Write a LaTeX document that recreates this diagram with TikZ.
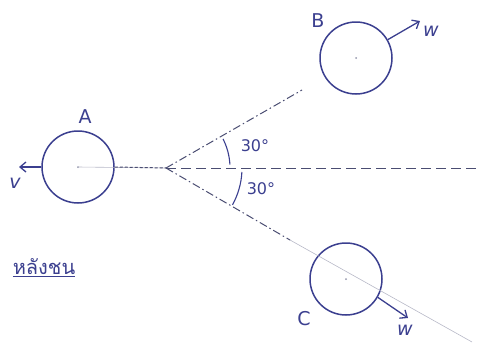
\documentclass[tikz,border=0pt]{standalone}
\usepackage{fontspec}
\newfontfamily\thaifont[Script=Thai]{Loma}
\newfontfamily\handfont{DejaVu Sans}
\usetikzlibrary{arrows.meta,calc}
\definecolor{ink}{HTML}{3B3F8F}
\definecolor{pencil}{HTML}{4A4D72}
\tikzset{
  ball/.style={circle, draw=ink, line width=1.5pt, minimum size=72pt, inner sep=0pt},
  vel/.style={draw=ink, line width=1.3pt, -{Straight Barb[length=6pt,width=10pt]}},
  lbl/.style={text=ink, font=\handfont\fontsize{19}{19}\selectfont},
  ang/.style={text=ink, font=\handfont\fontsize{16}{16}\selectfont},
  axis/.style={draw=pencil, line width=1pt, dash pattern=on 10pt off 5pt},
  dashdot/.style={draw=pencil, line width=1pt, dash pattern=on 8pt off 3pt on 1.5pt off 3pt},
  faint/.style={draw=pencil!40, line width=0.6pt},
}
\begin{document}
\begin{tikzpicture}[x=1pt,y=-1pt]
\useasboundingbox (0,0) rectangle (480,343);
% vertex
\coordinate (O) at (166,168);
% balls
\node[ball] (A) at (78,167) {};
\node[ball] (B) at (356,58) {};
\node[ball] (C) at (346,279) {};
% centre marks
\fill[pencil!60] (A.center) circle (1pt);
\fill[pencil!60] (B.center) circle (1pt);
\fill[pencil!60] (C.center) circle (1pt);
% line ends
\coordinate (Hend) at (480,168);
\coordinate (Bend) at (302,90);
\coordinate (Cdash) at (290,240);
\coordinate (Cend) at (472,342);
% lines
\draw[faint] (A.center) -- (O);
\draw[draw=pencil, line width=1pt, dash pattern=on 3pt off 2pt] (A.east) -- (O);
\draw[axis] (O) -- (Hend);
\draw[dashdot] (O) -- (Bend);
\draw[dashdot] (O) -- (Cdash);
\draw[faint] (Cdash) -- (Cend);
% angle arcs
\draw[ink, line width=1.1pt] ($(O)+(-27:64)$) arc[start angle=-27, end angle=-3, radius=64];
\draw[ink, line width=1.1pt] ($(O)+(3:76)$) arc[start angle=3, end angle=29, radius=76];
\node[ang] (a1) at (255,146) {30°};
\node[ang] (a2) at (261,189) {30°};
% velocities
\coordinate (vtip) at (19,167);
\coordinate (wBtip) at (420,21);
\coordinate (wCtip) at (408,318);
\draw[vel] (A.west) -- (vtip);
\draw[vel] (B.30) -- (wBtip);
\draw[vel] (C.-30) -- (wCtip);
% labels
\node[lbl] (lA) at (85,117) {A};
\node[lbl] (lB) at (318,21) {B};
\node[lbl] (lC) at (304,319) {C};
\node[lbl] (lv) at (15,183) {\textit{v}};
\node[lbl] (lwB) at (431,31) {\textit{w}};
\node[lbl] (lwC) at (405,330) {\textit{w}};
\node[text=ink, font=\thaifont\fontsize{20}{20}\selectfont] (th) at (44,268) {\underline{หลังชน}};
\end{tikzpicture}
\end{document}
